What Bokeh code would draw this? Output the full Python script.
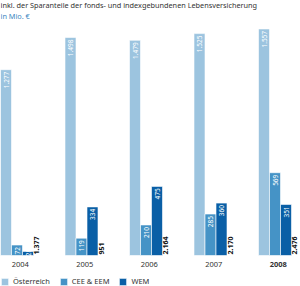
import numpy as np
from bokeh.plotting import figure
from bokeh.models import ColumnDataSource, Label, Legend, LegendItem, Range1d
from bokeh.core.properties import value
from bokeh.embed import file_html
from bokeh.resources import INLINE

years = ["2004", "2005", "2006", "2007", "2008"]
oesterreich = [1277, 1498, 1479, 1525, 1557]
cee_eem = [72, 119, 210, 285, 569]
wem = [28, 334, 475, 360, 351]
total_labels = ["1.377", "951", "2.164", "2.170", "2.476"]
series_names = ["Österreich", "CEE & EEM", "WEM"]
title_text = "inkl. der Sparanteile der fonds- und indexgebundenen Lebensversicherung"
unit_text = "in Mio. €"

colors = ["#9cc4df", "#4593c6", "#0a5fa6"]
FONT = "Noto Sans"

def fmt(v):
    return f"{v:,}".replace(",", ".")

p = figure(width=300, height=286, output_backend="svg", toolbar_location=None,
           min_border=0, outline_line_color=None)
p.x_range = Range1d(0, 300 / 64.5)
p.y_range = Range1d(-31 * 6.873, 255 * 6.873)
p.axis.visible = False
p.grid.visible = False
p.background_fill_color = "white"

bw = 11 / 64.5
idx = np.arange(len(years))
series = [oesterreich, cee_eem, wem]
renderers = []
for k, vals in enumerate(series):
    xs = idx + bw * (k + 0.5)
    src = ColumnDataSource(dict(x=xs, top=vals,
                                lab=[fmt(v) for v in vals],
                                ly=np.maximum(np.array(vals), 60)))
    r = p.vbar(x="x", top="top", bottom=0, width=bw, source=src,
               fill_color=colors[k], line_color="white", line_width=0.6)
    renderers.append(r)
    p.text(x="x", y="ly", text="lab", source=src, angle=np.pi / 2,
           text_align="right", text_baseline="middle", y_offset=2,
           text_color="white", text_font=value(FONT), text_font_size="6.5px")

# totals
tsrc = ColumnDataSource(dict(x=idx + bw * 3.3, y=[0] * len(years), lab=total_labels))
p.text(x="x", y="y", text="lab", source=tsrc, angle=np.pi / 2,
       text_align="left", text_baseline="middle", y_offset=-1,
       text_color="#111111", text_font=value(FONT), text_font_size="7px",
       text_font_style="bold")

# year labels
ysrc = ColumnDataSource(dict(x=idx + bw * 1.8, y=[0] * len(years), lab=years,
                             st=["normal"] * (len(years) - 1) + ["bold"]))
p.text(x="x", y="y", text="lab", source=ysrc, text_align="center",
       text_baseline="middle", y_offset=9, text_color="#333333",
       text_font=value(FONT), text_font_size="7.5px", text_font_style="st")

p.add_layout(Label(x=0, y=282, x_units="screen", y_units="screen", text=title_text,
                   text_font=FONT, text_font_size="7.3px", text_color="#333333",
                   text_baseline="middle"))
p.add_layout(Label(x=0, y=271, x_units="screen", y_units="screen", text=unit_text,
                   text_font=FONT, text_font_size="7.3px", text_color="#3a86c2",
                   text_baseline="middle"))

legend = Legend(items=[LegendItem(label=series_names[k], renderers=[renderers[k]])
                       for k in range(3)],
                location=(0, 0), orientation="horizontal",
                glyph_width=9, glyph_height=9, label_height=9, label_standoff=4,
                spacing=9, padding=0, margin=0,
                label_text_font=FONT, label_text_font_size="7.5px",
                label_text_color="#333333",
                border_line_alpha=0, background_fill_alpha=0)
p.add_layout(legend)

open("out.html", "w").write(file_html(p, INLINE))
